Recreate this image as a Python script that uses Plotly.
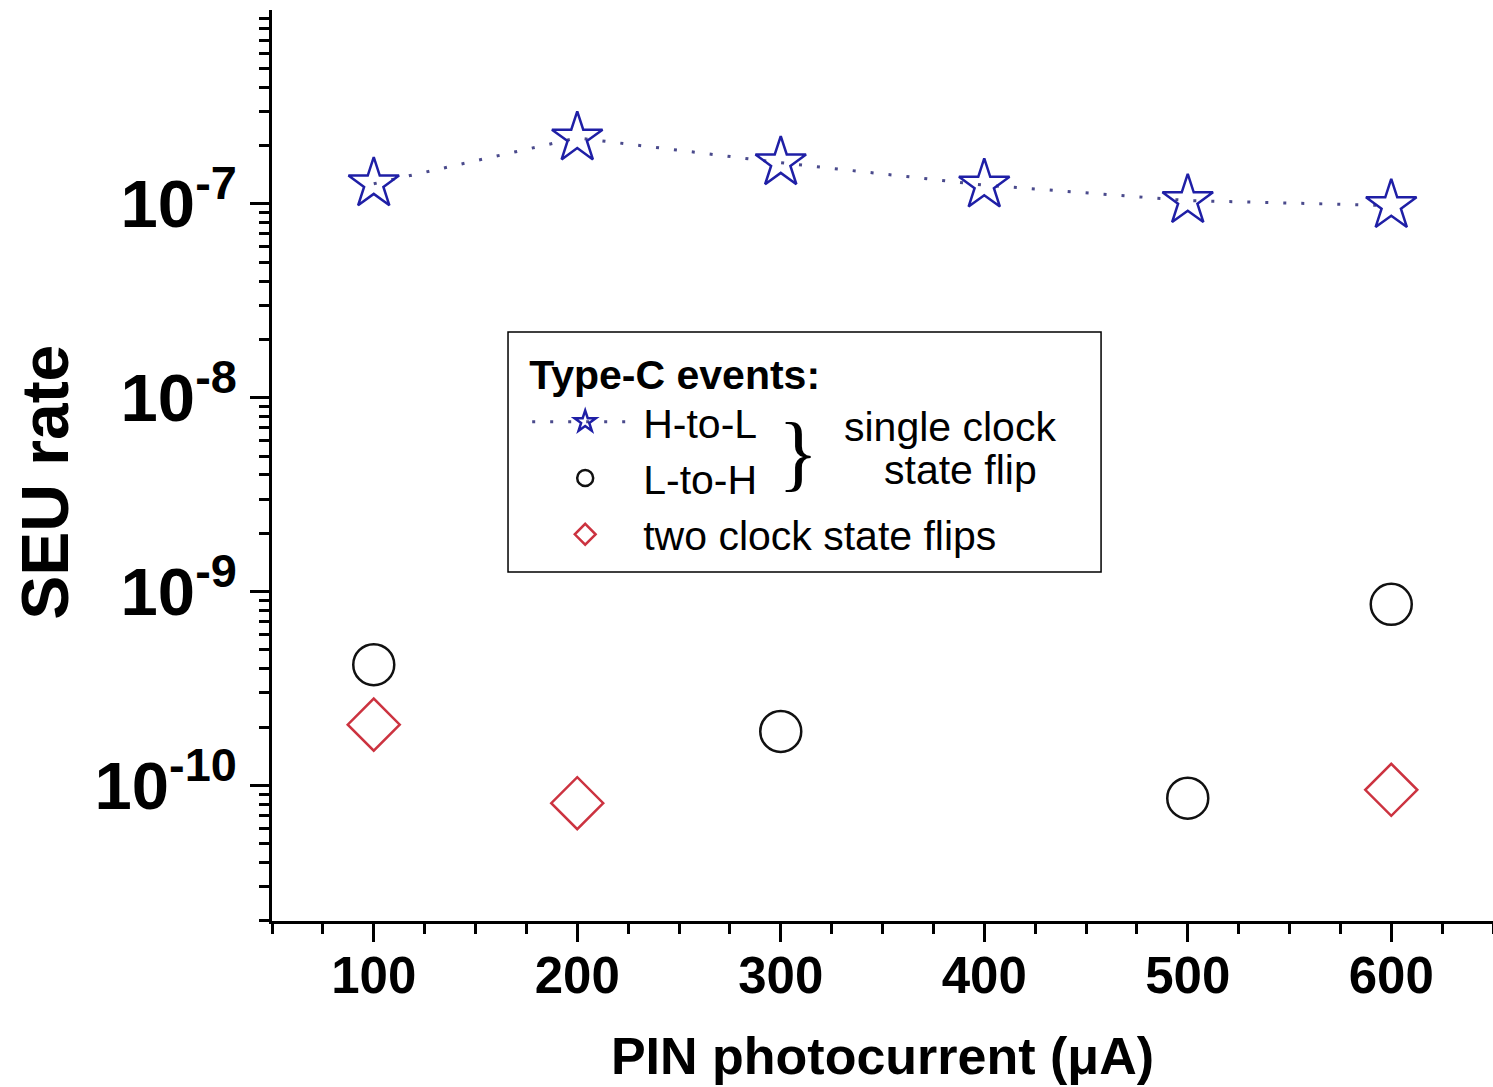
import plotly.graph_objects as go

# ---- data ----
x_h2l = [100, 200, 300, 400, 500, 600]
y_h2l = [1.27e-7, 2.19e-7, 1.63e-7, 1.25e-7, 1.04e-7, 0.98e-7]

x_l2h = [100, 300, 500, 600]
y_l2h = [4.2e-10, 1.9e-10, 8.6e-11, 8.6e-10]

x_two = [100, 200, 600]
y_two = [2.06e-10, 8.1e-11, 9.5e-11]

x_major = [100, 200, 300, 400, 500, 600]
x_labels = ["100", "200", "300", "400", "500", "600"]
x_minor = [50, 75, 125, 150, 175, 225, 250, 275, 325, 350, 375, 425, 450, 475,
           525, 550, 575, 625, 650]
y_major = [1e-10, 1e-9, 1e-8, 1e-7]
y_labels = ["10<sup>-10</sup>", "10<sup>-9</sup>", "10<sup>-8</sup>", "10<sup>-7</sup>"]
y_minor = [k * 10.0 ** e for e in range(-11, -5) for k in range(2, 10)
           if 2e-11 <= k * 10.0 ** e <= 1e-6]

X_RANGE = [50, 650]
Y_RANGE = [-10.699, -6.0]

FONT = "Liberation Sans, Arial, sans-serif"
BLUE = "#1f1fa6"
RED = "#cc3340"
BLACK = "#111111"

fig = go.Figure()
fig.add_trace(go.Scatter(
    x=x_h2l, y=y_h2l, mode="lines+markers", name="H-to-L",
    line=dict(color="#4a4a8c", width=3, dash="3px,15px"),
    marker=dict(symbol="star-open", size=38, color=BLUE, line=dict(width=2.5, color=BLUE)),
))
fig.add_trace(go.Scatter(
    x=x_l2h, y=y_l2h, mode="markers", name="L-to-H",
    marker=dict(symbol="circle-open", size=41, color=BLACK, line=dict(width=2.5, color=BLACK)),
))
fig.add_trace(go.Scatter(
    x=x_two, y=y_two, mode="markers", name="two clock state flips",
    marker=dict(symbol="diamond-open", size=40, color=RED, line=dict(width=2.5, color=RED)),
))

axis_common = dict(showgrid=False, zeroline=False, showline=True, linecolor="black",
                   linewidth=2.5, tickcolor="black", tickwidth=2.5)

fig.update_layout(
    width=1493, height=1087,
    margin=dict(l=272, r=0, t=10, b=166),
    paper_bgcolor="white", plot_bgcolor="white",
    font=dict(family=FONT, color="black"),
    showlegend=True,
    legend=dict(
        x=0.209, y=0.643, xanchor="left", yanchor="top",
        bgcolor="rgba(0,0,0,0)", borderwidth=0,
        font=dict(size=41, family=FONT, color="black"),
        title=dict(text="<b>Type-C events:</b>", font=dict(size=41, family=FONT)),
        itemsizing="trace", itemwidth=106,
    ),
    xaxis=dict(
        **axis_common, range=X_RANGE, ticks="outside", ticklen=18,
        tickmode="array", tickvals=x_major, ticktext=x_labels,
        tickfont=dict(size=51, family=FONT, weight="bold"),
        ticklabelstandoff=-10,
        minor=dict(ticks="outside", ticklen=10, tickwidth=2.5, tickcolor="black",
                   tickmode="array", tickvals=x_minor),
        title=dict(text="<b>PIN photocurrent (μA)</b>", font=dict(size=52, family=FONT), standoff=35),
    ),
    yaxis=dict(
        **axis_common, type="log", range=Y_RANGE, ticks="outside", ticklen=19,
        tickmode="array", tickvals=y_major, ticktext=y_labels,
        tickfont=dict(size=67, family=FONT, weight="bold"),
        minor=dict(ticks="outside", ticklen=10, tickwidth=2.5, tickcolor="black",
                   tickmode="array", tickvals=y_minor),
    ),
    xaxis2=dict(
        **axis_common, overlaying="x", side="top", range=X_RANGE, ticks="inside", ticklen=18,
        tickmode="array", tickvals=x_major, showticklabels=False,
        minor=dict(ticks="inside", ticklen=9, tickwidth=2.5, tickcolor="black",
                   tickmode="array", tickvals=x_minor),
    ),
    yaxis2=dict(
        **axis_common, overlaying="y", side="right", type="log", range=Y_RANGE,
        ticks="inside", ticklen=19,
        tickmode="array", tickvals=y_major, showticklabels=False,
        minor=dict(ticks="inside", ticklen=10, tickwidth=2.5, tickcolor="black",
                   tickmode="array", tickvals=y_minor),
    ),
)

# y-axis title placed to match the reference
fig.add_annotation(xref="paper", yref="paper", x=-0.186, y=0.482, text="<b>SEU rate</b>",
                   textangle=-90, showarrow=False, xanchor="center", yanchor="middle",
                   font=dict(size=66, family=FONT, color="black"))

# legend frame
fig.add_shape(type="rect", xref="paper", yref="paper",
              x0=0.1933, x1=0.679, y0=0.383, y1=0.6465,
              line=dict(color="black", width=1.5), fillcolor="rgba(0,0,0,0)", layer="above")

# brace and grouped label
fig.add_annotation(xref="paper", yref="paper", x=0.4308, y=0.5148, text="}",
                   showarrow=False, font=dict(size=84, family="Liberation Serif, serif", color="black"))
fig.add_annotation(xref="paper", yref="paper", x=0.5553, y=0.5423, text="single clock",
                   showarrow=False, font=dict(size=41, family=FONT, color="black"))
fig.add_annotation(xref="paper", yref="paper", x=0.5635, y=0.4951, text="state flip",
                   showarrow=False, font=dict(size=41, family=FONT, color="black"))

fig.write_html("out.html")
